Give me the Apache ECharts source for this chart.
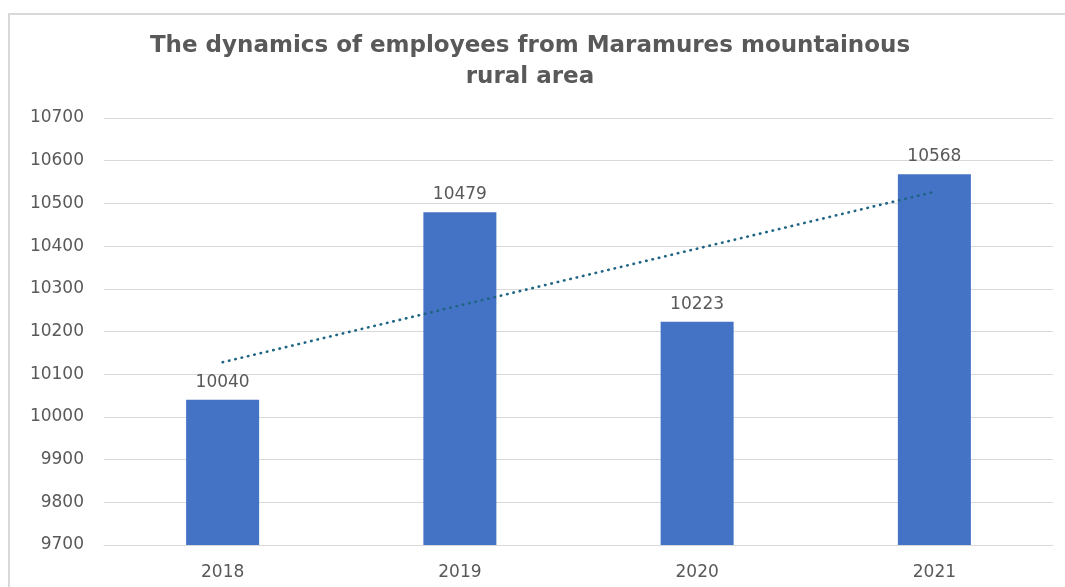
<!DOCTYPE html>
<html>
<head>
<meta charset="utf-8">
<script src="https://cdn.jsdelivr.net/npm/echarts@6/dist/echarts.min.js"></script>
<style>
  html, body { margin: 0; padding: 0; background: #fff; }
  #chart { width: 1065px; height: 587px; }
</style>
</head>
<body>
<div id="chart"></div>
<script>
// data
var years = ['2018', '2019', '2020', '2021'];
var employees = [10040, 10479, 10223, 10568];
// linear trend line, read at each year
var trendValues = [10128, 10261, 10394, 10527];

var TEXT_COLOR = '#595959';
var FONT = '"DejaVu Sans", "Liberation Sans", sans-serif';

var chart = echarts.init(document.getElementById('chart'));

var option = {
    backgroundColor: '#fff',
    animation: false,
    title: {
        text: 'The dynamics of employees from Maramures mountainous\nrural area',
        left: 525,
        top: 26,
        textAlign: 'center',
        textStyle: {
            color: TEXT_COLOR,
            fontFamily: FONT,
            fontSize: 23,
            fontWeight: 'bold',
            lineHeight: 31
        }
    },
    graphic: [{
        type: 'rect',
        shape: { x: 9, y: 14, width: 1100, height: 620 },
        style: { fill: 'none', stroke: '#d9d9d9', lineWidth: 2 },
        silent: true
    }],
    grid: {
        left: 104,
        right: 12,
        top: 118,
        bottom: 42
    },
    xAxis: {
        type: 'category',
        data: years,
        axisLine: { show: true, lineStyle: { color: '#d9d9d9' } },
        axisTick: { show: false },
        axisLabel: {
            color: TEXT_COLOR,
            fontFamily: FONT,
            fontSize: 17,
            margin: 19
        }
    },
    yAxis: {
        type: 'value',
        min: 9700,
        max: 10700,
        interval: 100,
        axisLine: { show: false },
        axisTick: { show: false },
        splitLine: { lineStyle: { color: '#d9d9d9', width: 1 } },
        axisLabel: {
            color: TEXT_COLOR,
            fontFamily: FONT,
            fontSize: 17,
            margin: 20,
            formatter: function (v) { return String(v); }
        }
    },
    series: [{
        name: 'Employees',
        type: 'bar',
        data: employees,
        barWidth: 73,
        itemStyle: { color: '#4472C4' },
        label: {
            show: true,
            position: 'top',
            distance: 9,
            color: TEXT_COLOR,
            fontFamily: FONT,
            fontSize: 17
        }
    }, {
        name: 'Trend',
        type: 'line',
        data: trendValues,
        symbol: 'none',
        lineStyle: {
            color: '#1D6583',
            width: 2.6,
            type: [0.5, 6],
            cap: 'round'
        },
        z: 5
    }]
};

chart.setOption(option);
</script>
</body>
</html>
